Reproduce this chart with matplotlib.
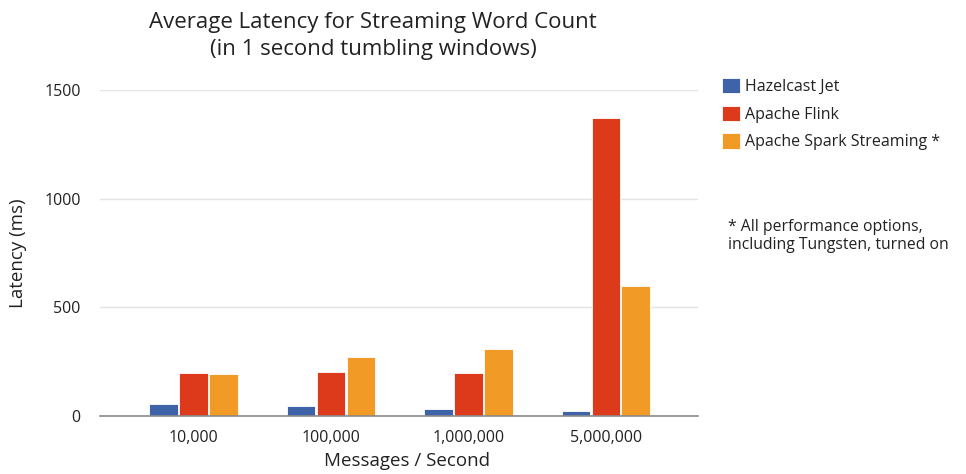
import matplotlib
matplotlib.use("Agg")
import matplotlib.pyplot as plt
import numpy as np

categories = ["10,000", "100,000", "1,000,000", "5,000,000"]
series_names = ["Hazelcast Jet", "Apache Flink", "Apache Spark Streaming *"]
hazelcast = [55, 46, 34, 22]
flink = [198, 203, 196, 1373]
spark = [191, 270, 307, 600]
yticks = [0, 500, 1000, 1500]
colors = ["#3f63a9", "#dc3a1b", "#f29a26"]

plt.rcParams['font.family'] = ['Open Sans', 'DejaVu Sans']

fig = plt.figure(figsize=(9.66, 4.74), dpi=100)
ax = fig.add_axes([100/966, 58/474, 598/966, 326/474])

x = np.arange(len(categories))
w = 0.209
step = 0.218
for i, (vals, name, c) in enumerate(zip([hazelcast, flink, spark], series_names, colors)):
    ax.bar(x + (i - 1) * step, vals, width=w, color=c, label=name,
           edgecolor="white", linewidth=0.6, zorder=3)

ax.set_xlim(-0.68, 3.67)
ax.set_ylim(0, 1500)
ax.set_yticks(yticks)
ax.set_yticklabels([str(t) for t in yticks])
ax.set_xticks(x)
ax.set_xticklabels(categories)
ax.tick_params(axis='both', length=0, labelsize=11.5, colors="#222222")
ax.tick_params(axis='y', pad=14)
ax.tick_params(axis='x', pad=10)
ax.grid(axis='y', color="#e3e3e3", linewidth=1, zorder=0)
for s in ["top", "right", "left"]:
    ax.spines[s].set_visible(False)
ax.spines["bottom"].set_color("#8a8a8a")
ax.spines["bottom"].set_linewidth(1.2)
ax.spines["bottom"].set_zorder(4)

ax.set_ylabel("Latency (ms)", fontsize=13.5, color="#222222", labelpad=12)
ax.set_xlabel("Messages / Second", fontsize=13.5, color="#222222")
ax.xaxis.set_label_coords((407 - 100) / 598, -36 / 326)

fig.text(373/966, 1 - 36/474, "Average Latency for Streaming Word Count\n(in 1 second tumbling windows)",
         ha="center", va="center", fontsize=16, color="#222222", linespacing=1.35)

fig.legend(loc="upper left", bbox_to_anchor=(722/966, 1 - 78/474), frameon=False,
           fontsize=11.5, handlelength=1.1, handleheight=1.1, handletextpad=0.35,
           labelspacing=0.66, borderpad=0, borderaxespad=0, labelcolor="#222222")

fig.text(728/966, 1 - 236/474, "* All performance options,\nincluding Tungsten, turned on",
         ha="left", va="center", fontsize=11.3, color="#222222", linespacing=1.2)

fig.savefig("out.png", dpi=100)
